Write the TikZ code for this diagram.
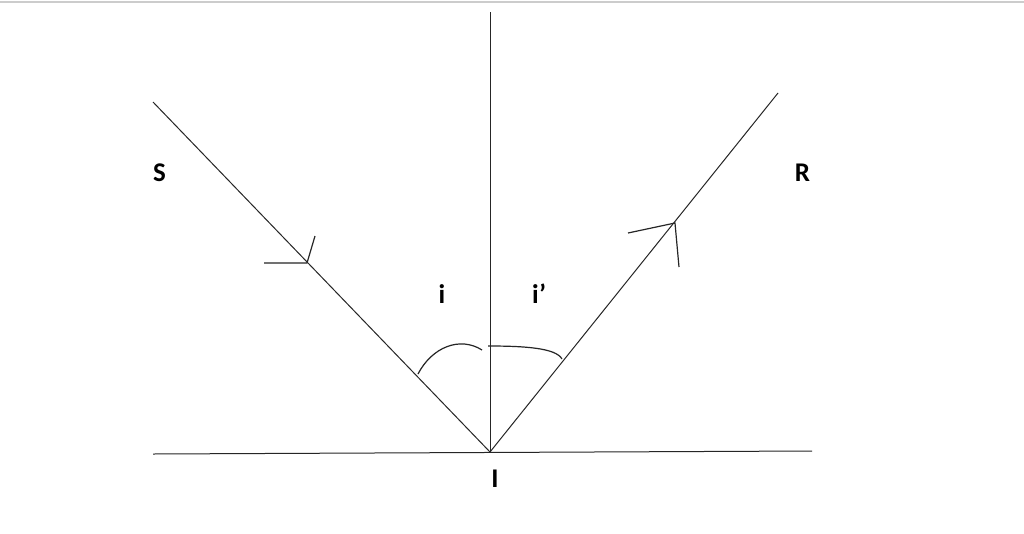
\documentclass[tikz,border=0pt]{standalone}
\usepackage{fontspec}
\setmainfont{Carlito}
\begin{document}
\begin{tikzpicture}[x=1pt,y=-1pt,
  ray/.style={line width=1pt,black!85},
  barb/.style={line width=1.2pt,black!85},
  lbl/.style={font=\fontsize{27}{30}\selectfont\bfseries,inner sep=0pt,anchor=base}]
\useasboundingbox (0,0) rectangle (1024,533);
\fill[white] (0,0) rectangle (1024,533);
\draw[gray!40,line width=2pt] (0,1.5) -- (1024,1.5);
% points
\coordinate (Itop) at (490,12);
\coordinate (I) at (490,452);
\coordinate (Sl) at (153,454);
\coordinate (Sr) at (812,451);
\coordinate (S0) at (153,102);
\coordinate (R0) at (778,93);
% lines
\draw[ray] (Sl) -- (Sr);
\draw[ray] (Itop) -- (I);
\draw[ray] (S0) -- (I);
\draw[ray] (I) -- (R0);
% arrows
\coordinate (a1) at (307,263);
\coordinate (a1l) at (264,263);
\coordinate (a1u) at (315,236);
\draw[barb] (a1l) -- (a1) -- (a1u);
\coordinate (a2) at (675,223);
\coordinate (a2l) at (628,233);
\coordinate (a2d) at (679,267);
\draw[barb] (a2l) -- (a2) -- (a2d);
% angle arcs
\coordinate (c1a) at (418,374);
\coordinate (c1b) at (482,350);
\draw[barb] (c1a) .. controls (432,347) and (460,336) .. (c1b);
\coordinate (c2a) at (488,346);
\coordinate (c2b) at (562,359);
\draw[barb] (c2a) .. controls (525,346) and (556,348) .. (c2b);
% labels
\node[lbl] (S) at (159.5,181) {S};
\node[lbl] (R) at (802.5,181) {R};
\node[lbl] (i) at (442,303) {i};
\node[lbl] (ip) at (539,303) {i’};
\node[lbl] (Il) at (495,487) {I};
\end{tikzpicture}
\end{document}
